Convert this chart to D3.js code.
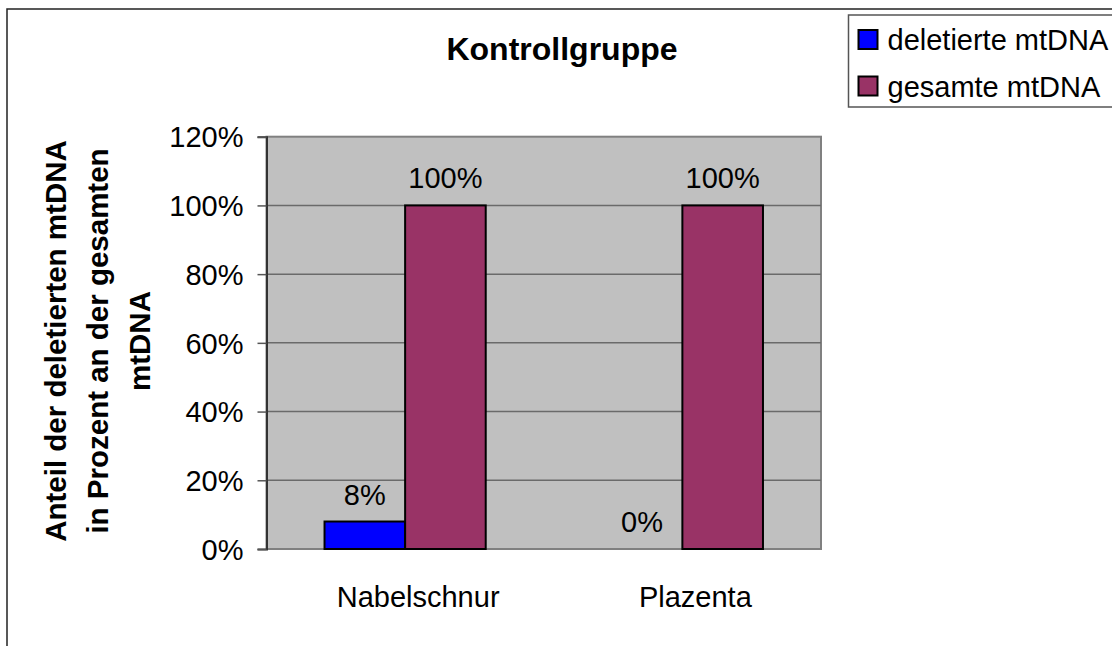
<!DOCTYPE html>
<html><head><meta charset="utf-8">
<script src="https://cdn.jsdelivr.net/npm/d3@7"></script>
<style>
html,body{margin:0;padding:0;background:#fff;}
svg{display:block;font-family:"Liberation Sans",Arial,sans-serif;}
</style></head>
<body><svg id="c" width="1112" height="646"></svg>
<script>
const categories = ["Nabelschnur", "Plazenta"];
const seriesNames = ["deletierte mtDNA", "gesamte mtDNA"];
const deletierte = [0.08, 0];
const gesamte = [1.0, 1.0];
const yTicks = [0, 0.2, 0.4, 0.6, 0.8, 1.0, 1.2];
const title = "Kontrollgruppe";
const yTitleLines = ["Anteil der deletierten mtDNA", "in Prozent an der gesamten", "mtDNA"];
const colors = ["#0000FF", "#993366"];

const svg = d3.select("#c");
const M = {left: 266.5, right: 821, top: 136.7, bottom: 549};
const fmt = d3.format(".0%");
const FS = 29;

// outer frame
svg.append("rect").attr("x", 7).attr("y", 9).attr("width", 1200).attr("height", 700)
  .attr("fill", "#fff").attr("stroke", "#222").attr("stroke-width", 1.5);

const x0 = d3.scaleBand().domain(categories).range([M.left, M.right]).paddingInner(0.4186).paddingOuter(0.2093);
const x1 = d3.scaleBand().domain(seriesNames).range([0, x0.bandwidth()]);
const y = d3.scaleLinear().domain([0, 1.2]).range([M.bottom, M.top]);

// plot background
svg.append("rect").attr("x", M.left).attr("y", M.top).attr("width", M.right - M.left).attr("height", M.bottom - M.top)
  .attr("fill", "#C0C0C0").attr("stroke", "#808080").attr("stroke-width", 2);

// gridlines
svg.append("g").selectAll("line").data(yTicks.filter(d => d > 0 && d < 1.2)).join("line")
  .attr("x1", M.left).attr("x2", M.right).attr("y1", d => y(d)).attr("y2", d => y(d))
  .attr("stroke", "#6a6a6a").attr("stroke-width", 1.5);

// bars
const data = categories.map((c, i) => ({c, vals: [deletierte[i], gesamte[i]]}));
const groups = svg.append("g").selectAll("g").data(data).join("g")
  .attr("transform", d => `translate(${x0(d.c)},0)`);
groups.selectAll("rect").data(d => d.vals.map((v, j) => ({v, s: seriesNames[j], j})).filter(e => e.v > 0)).join("rect")
  .attr("x", e => x1(e.s)).attr("width", x1.bandwidth())
  .attr("y", e => y(e.v)).attr("height", e => y(0) - y(e.v))
  .attr("fill", e => colors[e.j]).attr("stroke", "#000").attr("stroke-width", 2);
groups.selectAll("text").data(d => d.vals.map((v, j) => ({v, s: seriesNames[j], j}))).join("text")
  .attr("x", e => x1(e.s) + x1.bandwidth() / 2).attr("y", e => y(e.v) - 17)
  .attr("text-anchor", "middle").attr("font-size", FS).attr("fill", "#000")
  .text(e => fmt(e.v));

// y axis
const yAxis = svg.append("g").attr("transform", `translate(${M.left},0)`)
  .call(d3.axisLeft(y).tickValues(yTicks).tickFormat(fmt).tickSize(9).tickPadding(14));
yAxis.select(".domain").attr("stroke", "#333").attr("stroke-width", 2);
yAxis.selectAll(".tick line").attr("stroke", "#555").attr("stroke-width", 1.5);
yAxis.selectAll(".tick text").attr("font-size", FS).attr("fill", "#000").attr("font-family", "Liberation Sans, Arial, sans-serif").attr("dy", "0.35em");

// x axis
const xAxis = svg.append("g").attr("transform", `translate(13,${M.bottom})`)
  .call(d3.axisBottom(x0).tickSize(0).tickPadding(37));
xAxis.select(".domain").remove();
xAxis.selectAll(".tick text").attr("font-size", FS).attr("fill", "#000").attr("font-family", "Liberation Sans, Arial, sans-serif");

// title
svg.append("text").attr("x", 562).attr("y", 60).attr("text-anchor", "middle")
  .attr("font-size", 32).attr("font-weight", "bold").text(title);

// y title
const yt = svg.append("text").attr("transform", `translate(106,341) rotate(-90)`)
  .attr("text-anchor", "middle").attr("font-size", 29.5).attr("font-weight", "bold");
yTitleLines.forEach((l, i) => {
  yt.append("tspan").attr("x", 0).attr("y", (i - 1) * 42 + 2).text(l);
});

// legend
svg.append("rect").attr("x", 848.5).attr("y", 15).attr("width", 300).attr("height", 92)
  .attr("fill", "#fff").attr("stroke", "#555").attr("stroke-width", 1.5);
const lg = svg.append("g").selectAll("g").data(seriesNames).join("g")
  .attr("transform", (d, i) => `translate(858.5,${30 + i * 46.5})`);
lg.append("rect").attr("width", 19).attr("height", 19)
  .attr("fill", (d, i) => colors[i]).attr("stroke", "#000").attr("stroke-width", 2);
lg.append("text").attr("x", 29).attr("y", 20).attr("font-size", FS).text(d => d);
</script></body></html>
